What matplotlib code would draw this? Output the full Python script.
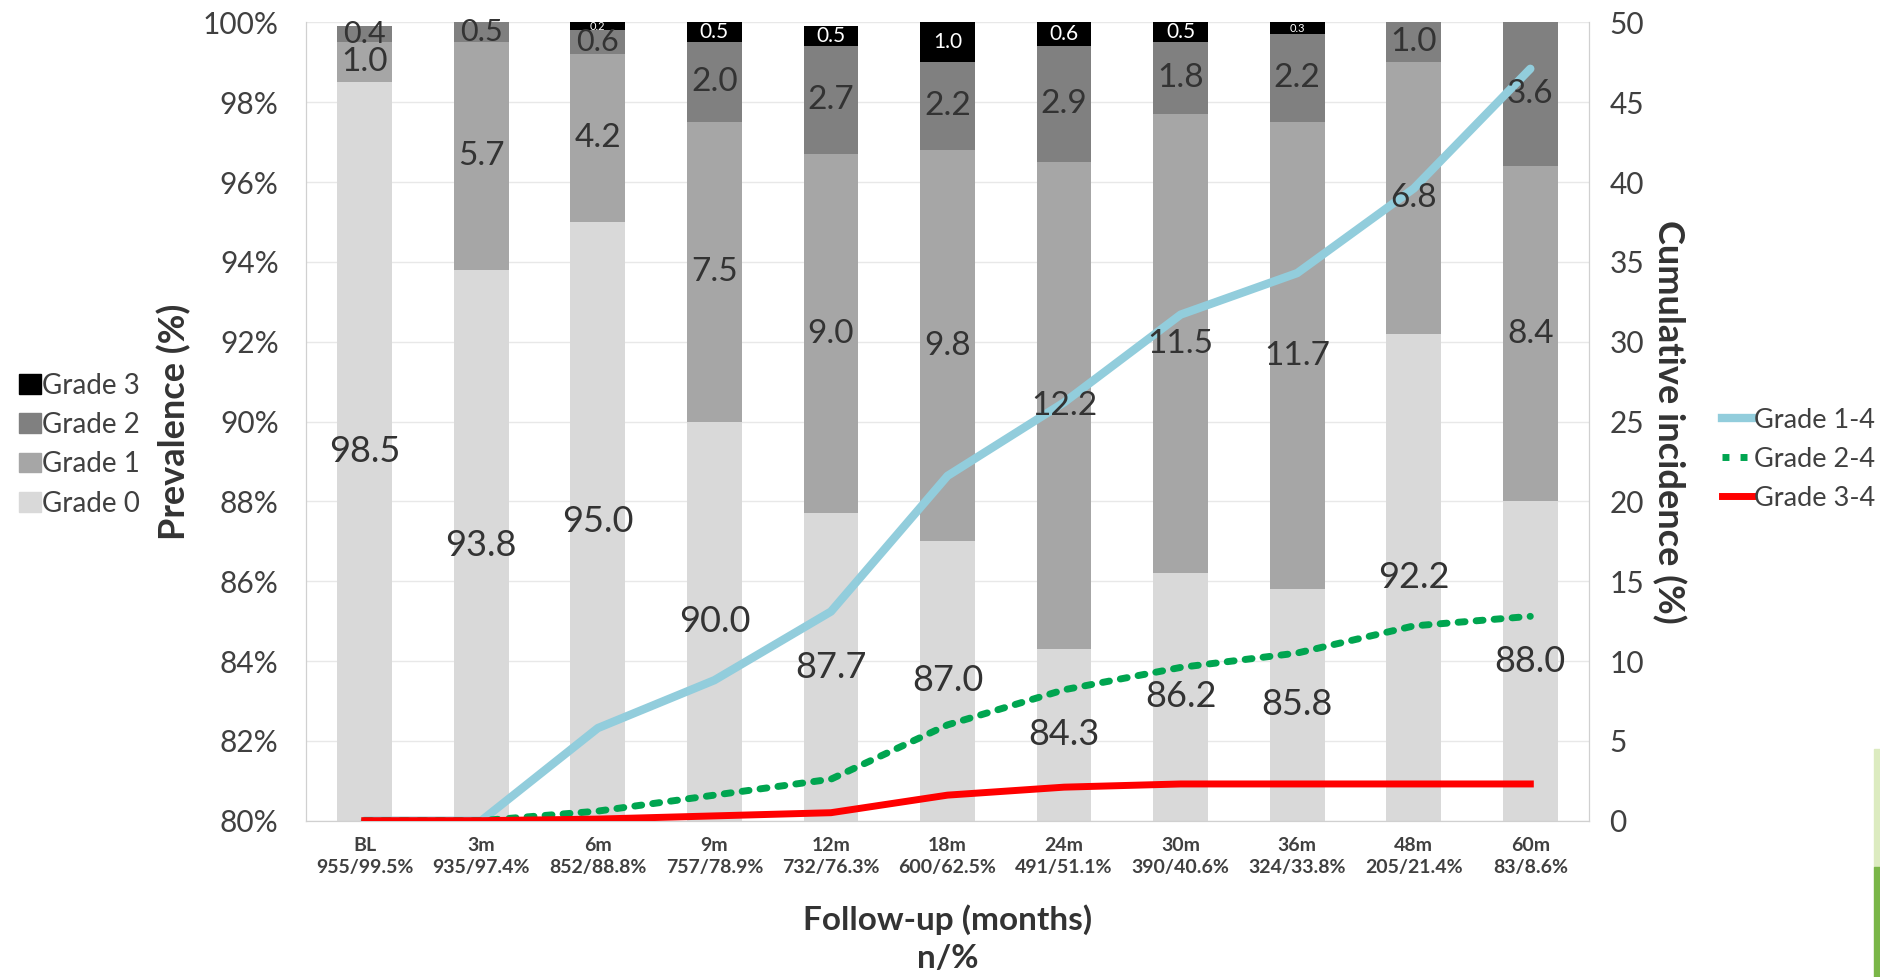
import numpy as np
import matplotlib.pyplot as plt
from matplotlib.lines import Line2D
from matplotlib.patches import Patch, Rectangle

plt.rcParams['font.family'] = ['Lato', 'DejaVu Sans']

# follow-up points and n/% under each
visits = ['BL', '3m', '6m', '9m', '12m', '18m', '24m', '30m', '36m', '48m', '60m']
n_pct = ['955/99.5%', '935/97.4%', '852/88.8%', '757/78.9%', '732/76.3%', '600/62.5%',
         '491/51.1%', '390/40.6%', '324/33.8%', '205/21.4%', '83/8.6%']

# prevalence (%) per grade, stacked
grade0 = [98.5, 93.8, 95.0, 90.0, 87.7, 87.0, 84.3, 86.2, 85.8, 92.2, 88.0]
grade1 = [1.0, 5.7, 4.2, 7.5, 9.0, 9.8, 12.2, 11.5, 11.7, 6.8, 8.4]
grade2 = [0.4, 0.5, 0.6, 2.0, 2.7, 2.2, 2.9, 1.8, 2.2, 1.0, 3.6]
grade3 = [0.0, 0.0, 0.2, 0.5, 0.5, 1.0, 0.6, 0.5, 0.3, 0.0, 0.0]

# cumulative incidence (%)
cum_1_4 = [0.0, 0.0, 5.8, 8.8, 13.1, 21.6, 26.2, 31.7, 34.3, 39.6, 47.1]
cum_2_4 = [0.0, 0.0, 0.6, 1.6, 2.6, 6.0, 8.2, 9.6, 10.5, 12.2, 12.8]
cum_3_4 = [0.0, 0.0, 0.1, 0.3, 0.5, 1.6, 2.1, 2.3, 2.3, 2.3, 2.3]

grade_colors = ['#d9d9d9', '#a6a6a6', '#808080', '#000000']
text_col = '#333333'
tick_col = '#404040'

fig = plt.figure(figsize=(18.8, 9.77), dpi=100)
ax = fig.add_axes([0.163, 0.160, 0.682, 0.817])
ax2 = ax.twinx()

x = np.arange(len(visits))
w = 0.47
grades = [grade0, grade1, grade2, grade3]
bottom = np.zeros(len(x))
for vals, col in zip(grades, grade_colors):
    ax.bar(x, vals, w, bottom=bottom, color=col, zorder=2)
    bottom += np.array(vals)

ax.set_ylim(80, 100)
ax.set_xlim(-0.5, len(x) - 0.5)
ax.set_yticks(np.arange(80, 101, 2))
ax.set_yticklabels([f'{v}%' for v in range(80, 101, 2)], fontsize=21.5, color=tick_col)
ax.set_xticks(x)
ax.set_xticklabels([f'{v}\n{n}' for v, n in zip(visits, n_pct)], fontsize=14,
                   fontweight='bold', color=tick_col, linespacing=1.35)
ax.tick_params(axis='y', length=0, pad=20)
ax.tick_params(axis='x', length=0, pad=12)
ax.grid(axis='y', color='#e8e8e8', lw=1, zorder=0)
ax.set_axisbelow(True)
ax.spines['top'].set_visible(False)
ax2.spines['top'].set_visible(False)
for a in (ax, ax2):
    for s in ['left', 'right', 'bottom']:
        a.spines[s].set_color('#d0d0d0')
ax.set_ylabel('Prevalence (%)', fontsize=26, fontweight='bold', color=text_col, labelpad=8)
ax.set_xlabel('Follow-up (months)\nn/%', fontsize=24, fontweight='bold', color=text_col,
              labelpad=20, linespacing=1.4)

ax2.plot(x, cum_1_4, color='#92cddc', lw=6, solid_capstyle='round', zorder=3)
ax2.plot(x, cum_2_4, color='#00a550', lw=5, ls=(0, (1, 1.6)), dash_capstyle='round', zorder=3)
ax2.plot(x, cum_3_4, color='#ff0000', lw=5, zorder=4)
ax2.set_ylim(0, 50)
ax2.set_yticks(np.arange(0, 51, 5))
ax2.tick_params(length=0, labelsize=21.5, labelcolor=tick_col, pad=15)
ax2.set_ylabel('Cumulative incidence (%)', fontsize=26, fontweight='bold', color=text_col,
               rotation=-90, labelpad=30)

# segment labels, drawn on top of the lines
bottom = np.zeros(len(x))
for gi, vals in enumerate(grades):
    for i, v in enumerate(vals):
        if v <= 0:
            continue
        lo = max(bottom[i], 80)
        mid = (lo + bottom[i] + v) / 2
        if gi == 0:
            ax2.text(x[i], mid, f'{v:.1f}', transform=ax.transData, ha='center', va='center',
                     fontsize=26, color=text_col, zorder=6)
        elif gi == 3:
            ax2.text(x[i], mid, f'{v:.1f}', transform=ax.transData, ha='center', va='center',
                     fontsize=15 if v >= 0.5 else 8, color='white', zorder=6)
        else:
            ax2.text(x[i], mid, f'{v:.1f}', transform=ax.transData, ha='center', va='center',
                     fontsize=24 if v >= 1 else 22, color=text_col, zorder=6)
    bottom += np.array(vals)

bar_handles = [Patch(color=c, label=f'Grade {g}') for g, c in zip(range(4), grade_colors)][::-1]
fig.legend(handles=bar_handles, loc='center left', bbox_to_anchor=(0.004, 0.545), frameon=False,
           fontsize=20, handlelength=0.8, handleheight=0.7, handletextpad=0.05, labelspacing=0.48,
           borderaxespad=0, labelcolor=tick_col)
line_handles = [Line2D([], [], color='#92cddc', lw=6, label='Grade 1-4'),
                Line2D([], [], color='#00a550', lw=5, ls=(0, (1, 1.6)), label='Grade 2-4'),
                Line2D([], [], color='#ff0000', lw=5, label='Grade 3-4')]
fig.legend(handles=line_handles, loc='center left', bbox_to_anchor=(0.91, 0.53), frameon=False,
           fontsize=19.5, handlelength=1.15, handletextpad=0.05, labelspacing=0.52,
           borderaxespad=0, labelcolor=tick_col)

# green sliver at the bottom-right edge of the source image
fig.patches.append(Rectangle((1874 / 1880, 0.113), 6 / 1880, 0.12, transform=fig.transFigure,
                             color='#dcebc0', zorder=0))
fig.patches.append(Rectangle((1874 / 1880, 0.0), 6 / 1880, 0.113, transform=fig.transFigure,
                             color='#7ab648', zorder=0))

fig.savefig('out.png', dpi=100)
